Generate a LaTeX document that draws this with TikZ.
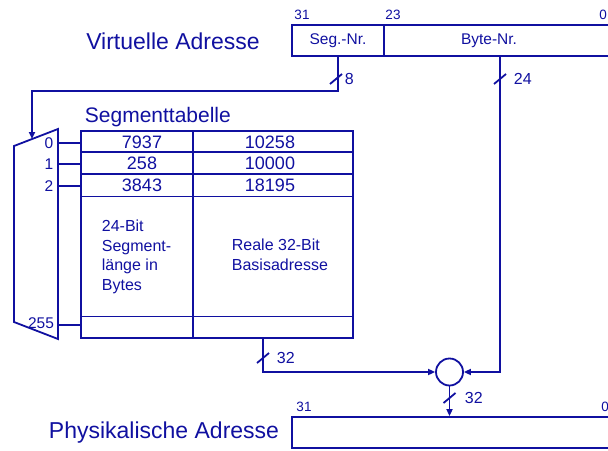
\documentclass[tikz,border=0pt]{standalone}
\usepackage{fontspec}
\setmainfont{Liberation Sans}
\usetikzlibrary{arrows.meta}
\definecolor{navy}{RGB}{16,16,160}
\newcommand\fs[2]{\fontsize{#1pt}{#2pt}\selectfont}

\begin{document}
\begin{tikzpicture}[
  x=1pt,y=-1pt,
  >={Triangle[length=7pt,width=6pt]},
  navy,line width=1.8pt,
  field/.style={draw,minimum height=31pt,inner sep=0pt,font=\fs{15.5}{18}},
  title/.style={inner sep=0pt,font=\fs{23}{27}},
  bitno/.style={inner sep=0pt,font=\fs{13.5}{16}},
  busno/.style={inner sep=0pt,anchor=west,font=\fs{16}{19}},
  muxno/.style={inner sep=0pt,font=\fs{15.5}{18}},
  entry/.style={inner sep=0pt,font=\fs{18}{21}},
  note/.style={inner sep=0pt,anchor=west,align=left,font=\fs{16}{19.5}},
  bus/.pic={\draw (-6,5) -- (6,-5);}
]
  \useasboundingbox (0,0) rectangle (608,450);

  % virtual address
  \node[title] (virt) at (173,41) {Virtuelle Adresse};
  \node[field,minimum width=92pt] (segnr) at (338,40.5) {Seg.-Nr.};
  \node[field,minimum width=228pt] (bytenr) at (498,40.5) {};
  \node[field,draw=none] (bytetxt) at (489,41) {Byte-Nr.};
  \node[bitno] (b31) at (302,15) {31};
  \node[bitno] (b23) at (393,15) {23};
  \node[bitno] (b0) at (603,15) {0};
  \coordinate (bytetap) at (500,56);

  % multiplexer
  \coordinate (mux tl) at (14,146);
  \coordinate (mux tr) at (58,129);
  \coordinate (mux br) at (58,339);
  \coordinate (mux bl) at (14,322);
  \coordinate (muxin) at (32,139);
  \draw (mux tl) -- (mux tr) -- (mux br) -- (mux bl) -- cycle;
  \foreach \y/\idx in {143/0,164/1,186/2} {
    \node[muxno] at (49,\y) {\idx};
    \draw (58,\y) -- (81,\y);
  }
  \node[muxno] at (41,323) {255};
  \draw (58,325) -- (81,325);

  % segment table
  \node[inner sep=0pt,anchor=west,font=\fs{21}{25}] (tabtitle) at (84,117) {Segmenttabelle};
  \node[draw,minimum width=272pt,minimum height=207pt,inner sep=0pt] (tab) at (217,234.5) {};
  \draw (193,131) -- (193,338);
  \draw (81,152) -- (353,152);
  \draw (81,174) -- (353,174);
  \draw[line width=0.9pt] (81,196) -- (353,196);
  \draw[line width=0.9pt] (81,316) -- (353,316);
  \foreach \y/\len/\base in {142/7937/10258,163/258/10000,185/3843/18195} {
    \node[entry] at (142,\y) {\len};
    \node[entry] at (270,\y) {\base};
  }
  \node[note] (lennote) at (101,257) {24-Bit\\Segment-\\länge in\\Bytes};
  \node[note] (basenote) at (231,255) {Reale 32-Bit\\Basisadresse};
  \coordinate (tabout) at (263,338);

  % adder and physical address
  \node[draw,circle,minimum size=27pt,inner sep=0pt] (adder) at (449.5,372) {};
  \node[title] (phystitle) at (164,433) {Physikalische Adresse};
  \node[field,minimum width=320pt] (phys) at (452,432.5) {};
  \node[bitno] (p31) at (304,407) {31};
  \node[bitno] (p0) at (605,407) {0};

  % connectors
  \draw[->] (segnr.south) -- ++(0,34) -| (muxin);
  \draw[->] (bytetap) |- (adder.east);
  \draw[->] (tabout) |- (adder.west);
  \draw[->] (adder.south) -- (adder.south |- phys.north);

  % bus widths
  \pic at (336,79) {bus};
  \pic at (500,79) {bus};
  \pic at (263,358) {bus};
  \pic at (449.5,398) {bus};
  \node[busno] at (344,79) {8};
  \node[busno] at (513,79) {24};
  \node[busno] at (276,358) {32};
  \node[busno] at (464,398) {32};
\end{tikzpicture}
\end{document}
